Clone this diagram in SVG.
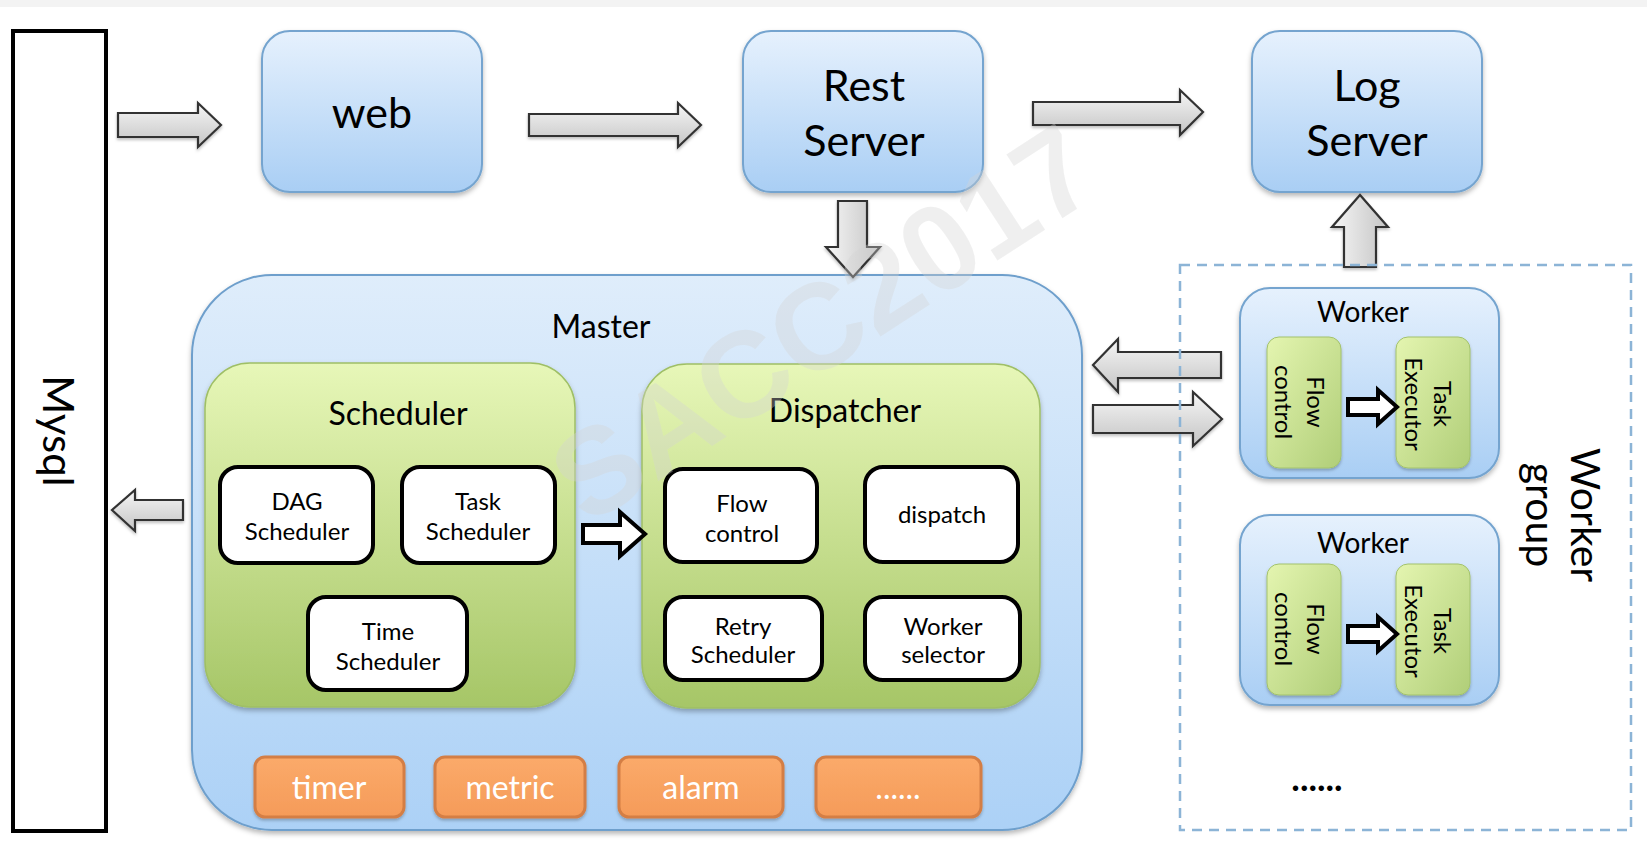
<svg xmlns="http://www.w3.org/2000/svg" width="1647" height="851" viewBox="0 0 1647 851">
<defs>
<linearGradient id="gBlue" x1="0" y1="0" x2="0" y2="1"><stop offset="0" stop-color="#e6f1fd"/><stop offset="1" stop-color="#a9cef4"/></linearGradient>
<linearGradient id="gMaster" x1="0" y1="0" x2="0" y2="1"><stop offset="0" stop-color="#dfedfb"/><stop offset="1" stop-color="#acd1f6"/></linearGradient>
<linearGradient id="gGreen" x1="0" y1="0" x2="0" y2="1"><stop offset="0" stop-color="#e7f7b8"/><stop offset="1" stop-color="#a6c667"/></linearGradient>
<linearGradient id="gGreen2" x1="0" y1="0" x2="1" y2="1"><stop offset="0" stop-color="#e4f5b0"/><stop offset="1" stop-color="#b0ce78"/></linearGradient>
<linearGradient id="gGray" x1="0" y1="0" x2="0" y2="1"><stop offset="0" stop-color="#f6f6f6"/><stop offset="1" stop-color="#c4c4c4"/></linearGradient>
<linearGradient id="gGrayH" x1="0" y1="0" x2="1" y2="0"><stop offset="0" stop-color="#f6f6f6"/><stop offset="1" stop-color="#c4c4c4"/></linearGradient>
<linearGradient id="gOrange" x1="0" y1="0" x2="0" y2="1"><stop offset="0" stop-color="#fbaa6a"/><stop offset="1" stop-color="#f59b59"/></linearGradient>
<filter id="sh" x="-10%" y="-10%" width="120%" height="130%"><feDropShadow dx="0" dy="3" stdDeviation="2.5" flood-color="#000" flood-opacity="0.28"/></filter>
<filter id="shs" x="-10%" y="-10%" width="120%" height="130%"><feDropShadow dx="0" dy="2" stdDeviation="1.5" flood-color="#000" flood-opacity="0.25"/></filter>
</defs>
<style>
.t{font-family:Lato,'Open Sans','Noto Sans',sans-serif;fill:#000;text-anchor:middle}
.big{font-size:43px}
.mid{font-size:32px}
.sm{font-size:24px}
.wk{font-size:28px}
.org{font-size:32px;fill:#fff}
.blue{fill:url(#gBlue);stroke:#74a4cf;stroke-width:2;filter:url(#sh)}
.master{fill:url(#gMaster);stroke:#6e9fcc;stroke-width:2;filter:url(#sh)}
.green{fill:url(#gGreen);stroke:#9fbf66;stroke-width:1.5;filter:url(#sh)}
.green2{fill:url(#gGreen2);stroke:#a3c26c;stroke-width:1;filter:url(#shs)}
.white{fill:#fff;stroke:#000;stroke-width:4}
.orange{fill:url(#gOrange);stroke:#d47e44;stroke-width:3;filter:url(#shs)}
.garrow{fill:url(#gGray);stroke:#333;stroke-width:2.2;filter:url(#shs)}
.garrowv{fill:url(#gGrayH);stroke:#333;stroke-width:2.2;filter:url(#shs)}
.harrow{fill:#fff;stroke:#000;stroke-width:4;stroke-linejoin:miter}
</style>
<rect x="0" y="0" width="1647" height="851" fill="#fff"/>
<rect x="0" y="0" width="1647" height="7" fill="#f3f3f3"/>

<g id="mysql">
<rect x="13" y="31" width="93" height="800" fill="#fff" stroke="#000" stroke-width="4"/>
<text class="t" font-size="42" transform="translate(43,431) rotate(90)">Mysql</text>
</g>

<g id="web">
<rect class="blue" x="262" y="31" width="220" height="161" rx="28"/>
<text class="t big" x="372" y="128">web</text>
</g>

<g id="rest-server">
<rect class="blue" x="743" y="31" width="240" height="161" rx="28"/>
<text class="t big" x="864" y="101">Rest</text>
<text class="t big" x="864" y="156">Server</text>
</g>

<g id="log-server">
<rect class="blue" x="1252" y="31" width="230" height="161" rx="28"/>
<text class="t big" x="1367" y="101">Log</text>
<text class="t big" x="1367" y="156">Server</text>
</g>

<g id="master">
<rect class="master" x="192" y="275" width="890" height="555" rx="80"/>
<text class="t" font-size="32" x="601" y="338">Master</text>
</g>

<g id="scheduler">
<rect class="green" x="205" y="363" width="370" height="344" rx="45"/>
<text class="t mid" x="398" y="425">Scheduler</text>
</g>

<g id="dag-scheduler">
<rect class="white" x="220" y="467" width="153" height="96" rx="18"/>
<text class="t sm" x="297" y="510">DAG</text>
<text class="t sm" x="297" y="540">Scheduler</text>
</g>
<g id="task-scheduler">
<rect class="white" x="402" y="467" width="153" height="96" rx="18"/>
<text class="t sm" x="478" y="510">Task</text>
<text class="t sm" x="478" y="540">Scheduler</text>
</g>
<g id="time-scheduler">
<rect class="white" x="308" y="597" width="159" height="93" rx="18"/>
<text class="t sm" x="388" y="640">Time</text>
<text class="t sm" x="388" y="670">Scheduler</text>
</g>

<g id="dispatcher">
<rect class="green" x="642" y="364" width="398" height="344" rx="45"/>
<text class="t mid" x="845" y="422">Dispatcher</text>
</g>
<g id="flow-control">
<rect class="white" x="665" y="469" width="152" height="93" rx="18"/>
<text class="t sm" x="742" y="512">Flow</text>
<text class="t sm" x="742" y="542">control</text>
</g>
<g id="dispatch">
<rect class="white" x="865" y="467" width="153" height="95" rx="18"/>
<text class="t sm" x="942" y="523">dispatch</text>
</g>
<g id="retry-scheduler">
<rect class="white" x="665" y="597" width="157" height="83" rx="18"/>
<text class="t sm" x="743" y="635">Retry</text>
<text class="t sm" x="743" y="663">Scheduler</text>
</g>
<g id="worker-selector">
<rect class="white" x="865" y="597" width="155" height="83" rx="18"/>
<text class="t sm" x="943" y="635">Worker</text>
<text class="t sm" x="943" y="663">selector</text>
</g>

<g id="timer">
<rect class="orange" x="255" y="757" width="149" height="60" rx="10"/>
<text class="t org" x="329" y="799">timer</text>
</g>
<g id="metric">
<rect class="orange" x="435" y="757" width="150" height="60" rx="10"/>
<text class="t org" x="510" y="799">metric</text>
</g>
<g id="alarm">
<rect class="orange" x="619" y="757" width="164" height="60" rx="10"/>
<text class="t org" x="701" y="799">alarm</text>
</g>
<g id="more-modules">
<rect class="orange" x="816" y="757" width="165" height="60" rx="10"/>
<text class="t org" x="898" y="799">......</text>
</g>

<g id="worker-1">
<rect class="blue" x="1240" y="288" width="259" height="190" rx="30"/>
<text class="t wk" x="1363" y="322">Worker</text>
<rect class="green2" x="1267" y="337" width="74" height="131" rx="12"/>
<rect class="green2" x="1396" y="337" width="74" height="131" rx="12"/>
<text class="t sm" transform="translate(1307,402) rotate(90)">Flow</text>
<text class="t sm" transform="translate(1275,402) rotate(90)">control</text>
<text class="t sm" transform="translate(1434,404) rotate(90)">Task</text>
<text class="t sm" transform="translate(1405,404) rotate(90)">Executor</text>
</g>

<g id="worker-2">
<rect class="blue" x="1240" y="515" width="259" height="190" rx="30"/>
<text class="t wk" x="1363" y="553">Worker</text>
<rect class="green2" x="1267" y="564" width="74" height="131" rx="12"/>
<rect class="green2" x="1396" y="564" width="74" height="131" rx="12"/>
<text class="t sm" transform="translate(1307,629) rotate(90)">Flow</text>
<text class="t sm" transform="translate(1275,629) rotate(90)">control</text>
<text class="t sm" transform="translate(1434,631) rotate(90)">Task</text>
<text class="t sm" transform="translate(1405,631) rotate(90)">Executor</text>
</g>

<g id="connectors">
<path class="garrow" d="M118,113 H198 V103 L221,125 L198,147 V137 H118 Z"/>
<path class="garrow" d="M529,114 H678 V103 L701,125 L678,147 V136 H529 Z"/>
<path class="garrow" d="M1033,102 H1180 V90 L1203,112 L1180,135 V125 H1033 Z"/>
<path class="garrowv" d="M838,201 V247 H826 L853,277 L880,247 H867 V201 Z"/>
<path class="garrowv" d="M1344,267 V227 H1332 L1360,195 L1388,227 H1376 V267 Z"/>
<path class="garrow" d="M1221,352 H1118 V339 L1093,365 L1118,392 V378 H1221 Z"/>
<path class="garrow" d="M1093,405 H1193 V392 L1222,419 L1193,446 V433 H1093 Z"/>
<path class="garrow" d="M183,500 H135 V490 L112,510 L135,531 V520 H183 Z"/>
<path class="harrow" d="M583,525 H620 V512 L645,534 L620,556 V543 H583 Z"/>
<path class="harrow" d="M1348,399 H1378 V390 L1397,407 L1378,424 V415 H1348 Z"/>
<path class="harrow" d="M1348,626 H1378 V617 L1397,634 L1378,651 V642 H1348 Z"/>
</g>

<g id="worker-group">
<rect x="1180" y="265" width="451" height="565" fill="none" stroke="#8cb4d6" stroke-width="2.5" stroke-dasharray="10 7"/>
<text class="t" font-size="41" transform="translate(1571,515) rotate(90)">Worker</text>
<text class="t" font-size="41" transform="translate(1526,515) rotate(90)">group</text>
<text class="t" font-size="36" font-weight="bold" x="1317" y="791">......</text>
</g>

<g id="watermark" opacity="0.35">
<text x="0" y="44" font-family="'Liberation Sans',Arial,sans-serif" font-weight="bold" font-size="122" fill="#d4d4d4" text-anchor="middle" transform="translate(822,322) rotate(-33)">SACC2017</text>
</g>
</svg>
